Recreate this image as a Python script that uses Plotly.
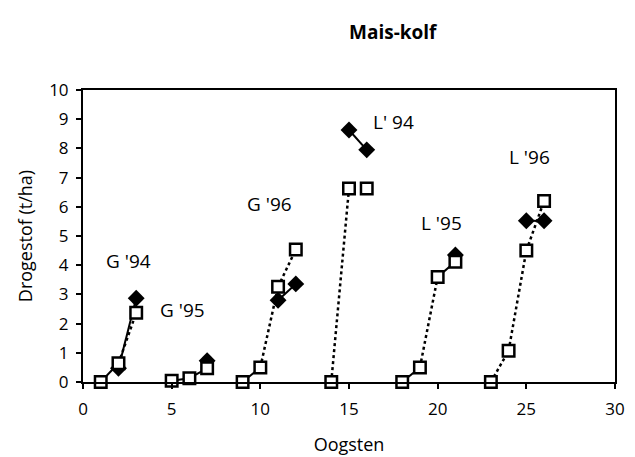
import plotly.graph_objects as go

# groups of harvests (Oogsten) with dry matter (t/ha)
labels = ["G '94", "G '95", "G '96", "L' 94", "L '95", "L '96"]
label_x = [2.55, 5.6, 10.5, 17.5, 20.2, 25.2]
label_y = [4.15, 2.45, 6.1, 8.9, 5.45, 7.7]

sq_x = [[1, 2, 3], [5, 6, 7], [9, 10, 11, 12], [14, 15, 16], [18, 19, 20, 21], [23, 24, 25, 26]]
sq_y = [[0, 0.64, 2.37], [0.04, 0.13, 0.47], [0, 0.5, 3.26, 4.54], [0, 6.63, 6.63],
        [0, 0.5, 3.6, 4.12], [0, 1.07, 4.5, 6.2]]
# line style of each segment between squares: True = dotted
sq_dot = [[False, True], [False, False], [False, True, True], [True, False],
          [False, True, False], [True, True, True]]

dia_x = [[2, 3], [7], [11, 12], [15, 16], [21], [25, 26]]
dia_y = [[0.47, 2.87], [0.73], [2.8, 3.36], [8.63, 7.95], [4.35], [5.52, 5.52]]

fig = go.Figure()

# -----------------------
# lines between squares
# -----------------------
for xs, ys, dots in zip(sq_x, sq_y, sq_dot):
    for i, d in enumerate(dots):
        if xs[i + 1] - xs[i] == 1 and ys[i] == ys[i + 1] and ys[i] > 1:
            continue
        fig.add_trace(go.Scatter(
            x=xs[i:i + 2], y=ys[i:i + 2], mode='lines',
            line=dict(color='black', width=2.5 if d else 2, dash='dot' if d else 'solid'),
            showlegend=False, cliponaxis=False
        ))

# diamonds (solid line)
for xs, ys in zip(dia_x, dia_y):
    fig.add_trace(go.Scatter(
        x=xs, y=ys, mode='lines+markers',
        line=dict(color='black', width=2),
        marker=dict(symbol='diamond', size=13, color='black'),
        showlegend=False, cliponaxis=False
    ))

# squares on top
for xs, ys in zip(sq_x, sq_y):
    fig.add_trace(go.Scatter(
        x=xs, y=ys, mode='markers',
        marker=dict(symbol='square', size=11.5, color='white',
                    line=dict(color='black', width=2.5)),
        showlegend=False, cliponaxis=False
    ))

for t, x, y in zip(labels, label_x, label_y):
    fig.add_annotation(x=x, y=y, text=t, showarrow=False,
                       font=dict(family='Open Sans, sans-serif', size=19, color='black'))

fig.add_annotation(x=0.583, y=1.2, xref='paper', yref='paper', yanchor='middle',
                   text='<b>Mais-kolf</b>', showarrow=False,
                   font=dict(family='Open Sans, sans-serif', size=19, color='black'))

tick_font = dict(family='Open Sans, sans-serif', size=17, color='black')
title_font = dict(family='Open Sans, sans-serif', size=18, color='black')

# page body adds 8px, so margins are shifted by 8
fig.update_layout(
    width=635, height=457,
    margin=dict(l=75, r=28, t=82, b=83),
    plot_bgcolor='white', paper_bgcolor='white',
    font=dict(family='Open Sans, sans-serif', color='black'),
    xaxis=dict(range=[0, 30], dtick=5, showgrid=False, zeroline=False,
               showline=True, linecolor='black', linewidth=2, mirror=True,
               ticks='outside', ticklen=5, tickwidth=1.5, tickcolor='black',
               ticklabelstandoff=6,
               tickfont=tick_font, title=dict(text='Oogsten', font=title_font, standoff=19)),
    yaxis=dict(range=[0, 10], dtick=1, showgrid=False, zeroline=False,
               showline=True, linecolor='black', linewidth=2, mirror=True,
               ticks='outside', ticklen=5, tickwidth=1.5, tickcolor='black',
               ticklabelstandoff=4,
               tickfont=tick_font, title=dict(text='Drogestof (t/ha)', font=title_font, standoff=12)),
    xaxis2=dict(range=[0, 30], dtick=5, overlaying='x', anchor='y', side='bottom',
                showgrid=False, zeroline=False, showticklabels=False,
                ticks='inside', ticklen=5, tickwidth=1.5, tickcolor='black'),
    yaxis2=dict(range=[0, 10], dtick=1, overlaying='y', anchor='x', side='left',
                showgrid=False, zeroline=False, showticklabels=False,
                ticks='inside', ticklen=5, tickwidth=1.5, tickcolor='black'),
)

fig.write_html("out.html")
